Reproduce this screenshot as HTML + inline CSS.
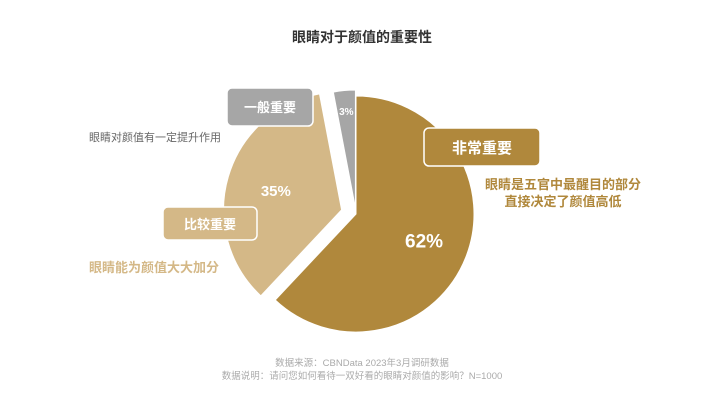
<!DOCTYPE html>
<html><head><meta charset="utf-8">
<style>
body{margin:0;width:725px;height:404px;background:#fff;overflow:hidden;font-family:"Liberation Sans","Noto Sans CJK SC",sans-serif;}
svg text{font-family:"Liberation Sans","Noto Sans CJK SC",sans-serif;}
</style></head>
<body>
<svg width="725" height="404">
<text x="362" y="42" text-anchor="middle" font-size="14" font-weight="bold" fill="#333">眼睛对于颜值的重要性</text>
<g id="pie"></g>
<rect x="227" y="88" width="86" height="38" rx="5" fill="#a6a6a6" stroke="#fff" stroke-width="1.5"/>
<text x="270" y="112" text-anchor="middle" font-size="13" font-weight="bold" fill="#fff">一般重要</text>
<text x="89" y="141" font-size="11" fill="#666">眼睛对颜值有一定提升作用</text>
<rect x="424" y="128" width="116" height="38" rx="5" fill="#b0883c" stroke="#fff" stroke-width="1.5"/>
<text x="482" y="153" text-anchor="middle" font-size="15" font-weight="bold" fill="#fff">非常重要</text>
<text x="563" y="189" text-anchor="middle" font-size="13" font-weight="bold" fill="#b0883c">眼睛是五官中最醒目的部分</text>
<text x="563" y="206" text-anchor="middle" font-size="13" font-weight="bold" fill="#b0883c">直接决定了颜值高低</text>
<rect x="163" y="207" width="94" height="33" rx="5" fill="#d4b887" stroke="#fff" stroke-width="1.5"/>
<text x="210" y="229" text-anchor="middle" font-size="13" font-weight="bold" fill="#fff">比较重要</text>
<text x="89" y="272" font-size="13" fill="#d4b887" font-weight="bold">眼睛能为颜值大大加分</text>
<text x="362" y="366" text-anchor="middle" font-size="9.5" fill="#aaa">数据来源：CBNData 2023年3月调研数据</text>
<text x="362" y="379" text-anchor="middle" font-size="9.5" fill="#aaa">数据说明：请问您如何看待一双好看的眼睛对颜值的影响？N=1000</text>
</svg>
<script>
const categories=["非常重要","比较重要","一般重要"];
const values=[62,35,3];
const percentLabels=["62%","35%","3%"];
const colors=["#b0883c","#d4b887","#a6a6a6"];
const explode=[0,15,6];
const labelR=[0.62,0.58,0.82];
const fontSizes=[19,15,10];
const cx=356,cy=214,R=118;
const g=document.getElementById('pie');
const total=values.reduce((a,b)=>a+b,0);
function pt(x,y,r,a){return [x+r*Math.sin(a),y-r*Math.cos(a)];}
let start=0;
values.forEach((v,i)=>{
  const a0=start/total*2*Math.PI, a1=(start+v)/total*2*Math.PI;start+=v;
  const m=(a0+a1)/2;
  const ox=cx+explode[i]*Math.sin(m), oy=cy-explode[i]*Math.cos(m);
  const p0=pt(ox,oy,R,a0),p1=pt(ox,oy,R,a1);
  const large=(a1-a0)>Math.PI?1:0;
  const path=document.createElementNS('http://www.w3.org/2000/svg','path');
  path.setAttribute('d',`M${ox},${oy}L${p0[0]},${p0[1]}A${R},${R} 0 ${large} 1 ${p1[0]},${p1[1]}Z`);
  path.setAttribute('fill',colors[i]);
  path.setAttribute('stroke','#fff');
  path.setAttribute('stroke-width','1');
  
  
  g.appendChild(path);
  const lp=pt(ox,oy,R*labelR[i],m);
  const t=document.createElementNS('http://www.w3.org/2000/svg','text');
  t.setAttribute('x',lp[0]);t.setAttribute('y',lp[1]+fontSizes[i]*0.35);
  t.setAttribute('text-anchor','middle');t.setAttribute('font-size',fontSizes[i]);
  t.setAttribute('font-weight','bold');t.setAttribute('fill','#fff');
  
  
  t.textContent=percentLabels[i];
  g.appendChild(t);
});
</script>
</body></html>
